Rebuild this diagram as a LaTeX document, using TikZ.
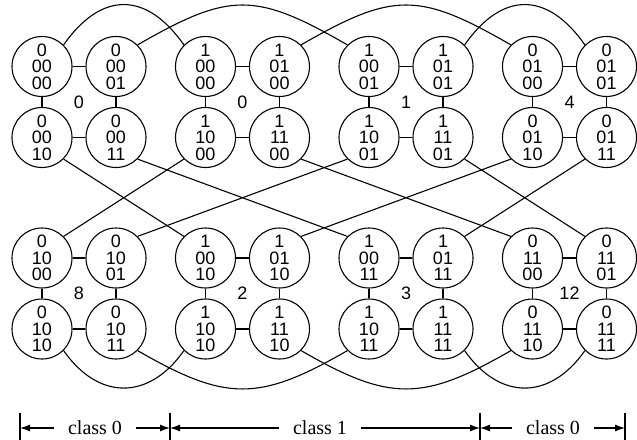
\documentclass[tikz,border=0pt]{standalone}
\usepackage{fontspec}
\setmainfont{Liberation Serif}
\setsansfont{Liberation Sans}
\usepackage{tikz}
\usetikzlibrary{arrows.meta,calc}

\tikzset{
  cell/.style={circle, draw, minimum size=60pt, inner sep=0pt, align=center,
    font=\sffamily\fontsize{18}{16.5}\selectfont},
  grp/.style={font=\sffamily\fontsize{18}{18}\selectfont},
  cls/.style={font=\fontsize{20}{20}\selectfont, inner xsep=14pt, inner ysep=0pt}
}

\begin{document}
\begin{tikzpicture}[x=1pt, y=-1pt, line width=1.1pt, >={Latex[length=10pt,width=7pt]}]
    \useasboundingbox (0,0) rectangle (637,439);

    % Upper half
    \foreach \n/\x/\p/\q/\r in {1/42/0/00/00, 2/116/0/00/01, 3/205.5/1/00/00, 4/279.5/1/01/00,
                                5/369/1/00/01, 6/443/1/01/01, 7/532.5/0/01/00, 8/606.5/0/01/01}
        \node[cell] (a\n) at (\x,66.5) {\p\\\q\\\r};
    \foreach \n/\x/\p/\q/\r in {1/42/0/00/10, 2/116/0/00/11, 3/205.5/1/10/00, 4/279.5/1/11/00,
                                5/369/1/10/01, 6/443/1/11/01, 7/532.5/0/01/10, 8/606.5/0/01/11}
        \node[cell] (b\n) at (\x,137.5) {\p\\\q\\\r};

    % Lower half
    \foreach \n/\x/\p/\q/\r in {1/42/0/10/00, 2/116/0/10/01, 3/205.5/1/00/10, 4/279.5/1/01/10,
                                5/369/1/00/11, 6/443/1/01/11, 7/532.5/0/11/00, 8/606.5/0/11/01}
        \node[cell] (c\n) at (\x,258) {\p\\\q\\\r};
    \foreach \n/\x/\p/\q/\r in {1/42/0/10/10, 2/116/0/10/11, 3/205.5/1/10/10, 4/279.5/1/11/10,
                                5/369/1/10/11, 6/443/1/11/11, 7/532.5/0/11/10, 8/606.5/0/11/11}
        \node[cell] (d\n) at (\x,329) {\p\\\q\\\r};

    % Squares of four
    \foreach \r/\s in {a/b, c/d}
        \foreach \i/\j in {1/2, 3/4, 5/6, 7/8} {
            \draw (\r\i) -- (\r\j);
            \draw (\s\i) -- (\s\j);
            \draw (\r\i) -- (\s\i);
            \draw (\r\j) -- (\s\j);
        }

    % Group numbers
    \foreach \i/\j/\v in {1/2/0, 3/4/0, 5/6/1, 7/8/4}
        \node[grp] (ga\i) at ($(a\i)!0.5!(b\j)$) {\v};
    \foreach \i/\j/\v in {1/2/8, 3/4/2, 5/6/3, 7/8/12}
        \node[grp] (gc\i) at ($(c\i)!0.5!(d\j)$) {\v};

    % Top arcs
    \draw (a1.north east) to[out=55, in=125, looseness=1.4] (a3.north west);
    \draw (a2.north east) to[out=30, in=150, looseness=1.3] (a5.north west);
    \draw (a4.north east) to[out=30, in=150, looseness=1.3] (a7.north west);
    \draw (a6.north east) to[out=55, in=125, looseness=1.4] (a8.north west);

    % Crossings between the halves
    \foreach \p/\q in {b1/c3, b2/c5, b4/c7, b6/c8}
        \draw (\p.south east) -- (\q.north west);
    \foreach \p/\q in {b3/c1, b5/c2, b7/c4, b8/c6}
        \draw (\p.south west) -- (\q.north east);

    % Bottom arcs
    \draw (d1.south east) to[out=-55, in=-125, looseness=1.3] (d3.south west);
    \draw (d2.south east) to[out=-30, in=-150, looseness=1.25] (d5.south west);
    \draw (d4.south east) to[out=-30, in=-150, looseness=1.25] (d7.south west);
    \draw (d6.south east) to[out=-55, in=-125, looseness=1.3] (d8.south west);

    % Classes
    \coordinate (t0) at (20,428);
    \coordinate (t1) at (170,428);
    \coordinate (t2) at (480,428);
    \coordinate (t3) at (625,428);
    \foreach \t in {t0, t1, t2, t3}
        \draw ([yshift=15pt]\t) -- ([yshift=-12pt]\t);
    \node[cls] (k0) at (95,428) {class 0};
    \node[cls] (k1) at (320,428) {class 1};
    \node[cls] (k2) at (553,428) {class 0};
    \draw[->] (k0) -- (t0);
    \draw[->] (k0) -- (t1);
    \draw[->] (k1) -- (t1);
    \draw[->] (k1) -- (t2);
    \draw[->] (k2) -- (t2);
    \draw[->] (k2) -- (t3);
\end{tikzpicture}
\end{document}
